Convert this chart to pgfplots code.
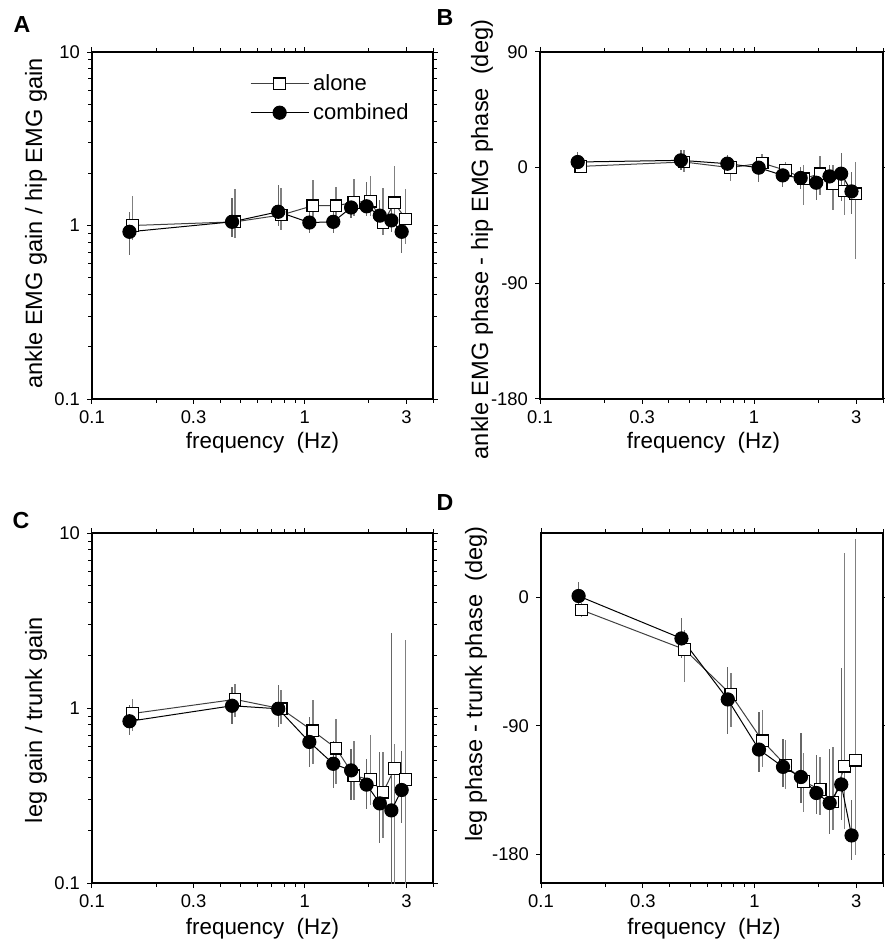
\documentclass[border=0pt]{standalone}
\usepackage{fontspec}
\setmainfont{Liberation Sans}
\usepackage{pgfplots}
\pgfplotsset{compat=1.18}
\begin{document}
\begin{tikzpicture}
\useasboundingbox (0,0) rectangle (442pt,-473.5pt);
% ---------------- A
\begin{axis}[scale only axis, width=170.5pt, height=173.5pt,
  at={(46pt,-26pt)}, anchor=north west,
  axis line style={line width=0.6pt}, tick style={black, line width=0.5pt},
  tick align=outside, major tick length=2.5pt, minor tick length=1.8pt,
  xmode=log, xmin=0.1, xmax=4, xtick={0.1,0.3,1,3},
  minor xtick={0.2,0.4,0.5,0.6,0.7,0.8,0.9,2,4},
  ymode=log, ymin=0.1, ymax=10, ytick={0.1,1,10},
  minor ytick={0.2,0.3,0.4,0.5,0.6,0.7,0.8,0.9,2,3,4,5,6,7,8,9},
  log ticks with fixed point, /pgf/number format/assume math mode=true,
  tick label style={font=\fontsize{9.2}{10}\selectfont},
  xlabel style={font=\fontsize{11.2}{12}\selectfont, at={(axis description cs:0.5,0)}, anchor=center, yshift=-22pt},
  ylabel style={font=\fontsize{11.8}{13}\selectfont, at={(axis description cs:0,0.5)}, anchor=center, yshift=28pt, xshift=1pt},
  xlabel={frequency~~(Hz)}, ylabel={ankle EMG gain / hip EMG gain},
  legend cell align=left,
  legend image code/.code={\draw[mark repeat=2,mark phase=2] plot coordinates {(0pt,0pt) (14.5pt,0pt) (29pt,0pt)};},
  legend style={at={(axis description cs:0.445,0.96)}, anchor=north west, draw=none, fill=none,
    font=\fontsize{11}{13}\selectfont, row sep=1pt}]
\addplot[black!75, line width=0.5pt, mark=square*, mark size=2.9pt,
    mark options={fill=white, draw=black, line width=0.6pt},
    error bars/.cd, y dir=both, y explicit, error mark=none,
    error bar style={line width=0.8pt, black!50}]
  table[x=x,y=y,y error plus=ep,y error minus=em] {
x y ep em
0.155 1.00 0.47 0.17
0.470 1.05 0.57 0.20
0.775 1.15 0.49 0.21
1.090 1.30 0.53 0.30
1.400 1.30 0.36 0.22
1.700 1.36 0.49 0.23
2.030 1.38 0.54 0.25
2.330 1.04 0.60 0.16
2.640 1.35 0.86 0.36
2.970 1.09 0.53 0.31
};
\addlegendentry{alone}
\addplot[black, line width=0.5pt, mark=*, mark size=3.3pt,
    mark options={fill=black, draw=black},
    error bars/.cd, y dir=both, y explicit, error mark=none,
    error bar style={line width=0.65pt, black!60}]
  table[x=x,y=y,y error plus=ep,y error minus=em] {
x y ep em
0.150 0.92 0.27 0.24
0.455 1.05 0.39 0.19
0.750 1.20 0.52 0.21
1.050 1.04 0.22 0.14
1.360 1.05 0.15 0.15
1.650 1.27 0.20 0.17
1.950 1.29 0.50 0.16
2.250 1.14 0.26 0.19
2.550 1.07 0.22 0.15
2.850 0.92 0.16 0.23
};
\addlegendentry{combined}
\end{axis}
% ---------------- B
\begin{axis}[scale only axis, width=171.5pt, height=173.5pt,
  at={(270pt,-26pt)}, anchor=north west,
  axis line style={line width=0.6pt}, tick style={black, line width=0.5pt},
  tick align=outside, major tick length=2.5pt, minor tick length=1.8pt,
  xmode=log, xmin=0.1, xmax=4, xtick={0.1,0.3,1,3},
  minor xtick={0.2,0.4,0.5,0.6,0.7,0.8,0.9,2,4},
  ymin=-180, ymax=90, ytick={-180,-90,0,90},
  log ticks with fixed point, /pgf/number format/assume math mode=true,
  tick label style={font=\fontsize{9.2}{10}\selectfont},
  xlabel style={font=\fontsize{11.2}{12}\selectfont, at={(axis description cs:0.5,0)}, anchor=center, yshift=-22pt, xshift=-4pt},
  ylabel style={font=\fontsize{11.8}{13}\selectfont, at={(axis description cs:0,0.5)}, anchor=center, yshift=29pt, xshift=-7pt},
  xlabel={frequency~~(Hz)}, ylabel={ankle EMG phase - hip EMG phase~~(deg)}]
\addplot[black!75, line width=0.5pt, mark=square*, mark size=2.9pt,
    mark options={fill=white, draw=black, line width=0.6pt},
    error bars/.cd, y dir=both, y explicit, error mark=none,
    error bar style={line width=0.8pt, black!50}]
  table[x=x,y=y,y error plus=ep,y error minus=em] {
x y ep em
0.155 1.0 7.3 4.4
0.470 4.4 9.1 7.8
0.775 0.0 4.4 10
1.090 3.6 6.8 8.3
1.400 -2.0 6.4 9
1.700 -8.6 10.4 20.4
2.030 -4.7 13.5 16.9
2.330 -12.5 14.3 20.5
2.640 -18.2 8.2 18.8
2.970 -20.3 24.7 50.7
};
\addplot[black, line width=0.5pt, mark=*, mark size=3.3pt,
    mark options={fill=black, draw=black},
    error bars/.cd, y dir=both, y explicit, error mark=none,
    error bar style={line width=0.65pt, black!60}]
  table[x=x,y=y,y error plus=ep,y error minus=em] {
x y ep em
0.150 4.4 7.6 7.0
0.455 5.7 7.8 7.7
0.750 3.1 6.5 7.1
1.050 0.0 7.0 11
1.360 -6.0 7.8 9
1.650 -8.0 8.5 8.4
1.950 -11.7 9.7 13.8
2.250 -6.8 8.6 8.2
2.550 -4.7 16.1 21.3
2.850 -18.5 15.1 17.5
};
\end{axis}
% ---------------- C
\begin{axis}[scale only axis, width=170.5pt, height=175pt,
  at={(46pt,-266.5pt)}, anchor=north west,
  axis line style={line width=0.6pt}, tick style={black, line width=0.5pt},
  tick align=outside, major tick length=2.5pt, minor tick length=1.8pt,
  xmode=log, xmin=0.1, xmax=4, xtick={0.1,0.3,1,3},
  minor xtick={0.2,0.4,0.5,0.6,0.7,0.8,0.9,2,4},
  ymode=log, ymin=0.1, ymax=10, ytick={0.1,1,10},
  minor ytick={0.2,0.3,0.4,0.5,0.6,0.7,0.8,0.9,2,3,4,5,6,7,8,9},
  log ticks with fixed point, /pgf/number format/assume math mode=true,
  tick label style={font=\fontsize{9.2}{10}\selectfont},
  xlabel style={font=\fontsize{11.2}{12}\selectfont, at={(axis description cs:0.5,0)}, anchor=center, yshift=-23pt},
  ylabel style={font=\fontsize{11.8}{13}\selectfont, at={(axis description cs:0,0.5)}, anchor=center, yshift=28pt, xshift=-6pt},
  xlabel={frequency~~(Hz)}, ylabel={leg gain / trunk gain}]
\addplot[black!75, line width=0.5pt, mark=square*, mark size=2.9pt,
    mark options={fill=white, draw=black, line width=0.6pt},
    error bars/.cd, y dir=both, y explicit, error mark=none,
    error bar style={line width=0.8pt, black!50}]
  table[x=x,y=y,y error plus=ep,y error minus=em] {
x y ep em
0.155 0.93 0.20 0.19
0.470 1.12 0.26 0.23
0.775 0.99 0.27 0.18
1.090 0.74 0.37 0.26
1.400 0.59 0.28 0.22
1.700 0.41 0.24 0.11
2.030 0.39 0.31 0.11
2.330 0.33 0.23 0.15
2.640 0.45 0.17 0.40
2.970 0.39 2.07 0.34
};
\addplot[black, line width=0.5pt, mark=*, mark size=3.3pt,
    mark options={fill=black, draw=black},
    error bars/.cd, y dir=both, y explicit, error mark=none,
    error bar style={line width=0.65pt, black!60}]
  table[x=x,y=y,y error plus=ep,y error minus=em] {
x y ep em
0.150 0.84 0.20 0.14
0.455 1.03 0.29 0.22
0.750 0.99 0.36 0.21
1.050 0.64 0.25 0.18
1.360 0.48 0.17 0.13
1.650 0.44 0.14 0.14
1.950 0.365 0.145 0.10
2.250 0.285 0.275 0.115
2.550 0.26 2.41 0.21
2.850 0.34 0.23 0.12
};
\end{axis}
% ---------------- D
\begin{axis}[scale only axis, width=171pt, height=175pt,
  at={(270.5pt,-266.5pt)}, anchor=north west,
  axis line style={line width=0.6pt}, tick style={black, line width=0.5pt},
  tick align=outside, major tick length=2.5pt, minor tick length=1.8pt,
  xmode=log, xmin=0.1, xmax=4, xtick={0.1,0.3,1,3},
  minor xtick={0.2,0.4,0.5,0.6,0.7,0.8,0.9,2,4},
  ymin=-200, ymax=45, ytick={-180,-90,0},
  log ticks with fixed point, /pgf/number format/assume math mode=true,
  tick label style={font=\fontsize{9.2}{10}\selectfont},
  xlabel style={font=\fontsize{11.2}{12}\selectfont, at={(axis description cs:0.5,0)}, anchor=center, yshift=-23pt, xshift=-4pt},
  ylabel style={font=\fontsize{11.8}{13}\selectfont, at={(axis description cs:0,0.5)}, anchor=center, yshift=32.5pt, xshift=12pt},
  xlabel={frequency~~(Hz)}, ylabel={leg phase - trunk phase~~(deg)}]
\addplot[black!75, line width=0.5pt, mark=square*, mark size=2.9pt,
    mark options={fill=white, draw=black, line width=0.6pt},
    error bars/.cd, y dir=both, y explicit, error mark=none,
    error bar style={line width=0.8pt, black!50}]
  table[x=x,y=y,y error plus=ep,y error minus=em] {
x y ep em
0.155 -8.9 5 5
0.470 -36.5 13.5 22.5
0.775 -68 15 22.7
1.090 -100.5 21.5 18.2
1.400 -117.6 17.6 16.4
1.700 -129 20 21
2.030 -134.6 22.9 18
2.330 -143.3 38.6 19.7
2.640 -118.3 149.1 43.7
2.970 -114 155 66.7
};
\addplot[black, line width=0.5pt, mark=*, mark size=3.3pt,
    mark options={fill=black, draw=black},
    error bars/.cd, y dir=both, y explicit, error mark=none,
    error bar style={line width=0.65pt, black!60}]
  table[x=x,y=y,y error plus=ep,y error minus=em] {
x y ep em
0.150 0.9 10.1 9.8
0.455 -28.8 14.1 14
0.750 -71.5 22.9 23.9
1.050 -106.6 26.6 15.4
1.360 -118.7 19.8 14.1
1.650 -125.8 30.8 18.2
1.950 -137 26.4 14.5
2.250 -144 38 21.5
2.550 -131 81.2 25
2.850 -166.7 24.7 17.3
};
\end{axis}
\node[font=\fontsize{11.6}{13}\selectfont\bfseries] at (11pt,-12.5pt) {A};
\node[font=\fontsize{11.6}{13}\selectfont\bfseries] at (222.5pt,-9pt) {B};
\node[font=\fontsize{11.6}{13}\selectfont\bfseries] at (10.5pt,-260.5pt) {C};
\node[font=\fontsize{11.6}{13}\selectfont\bfseries] at (222.5pt,-251.5pt) {D};
\end{tikzpicture}
\end{document}
